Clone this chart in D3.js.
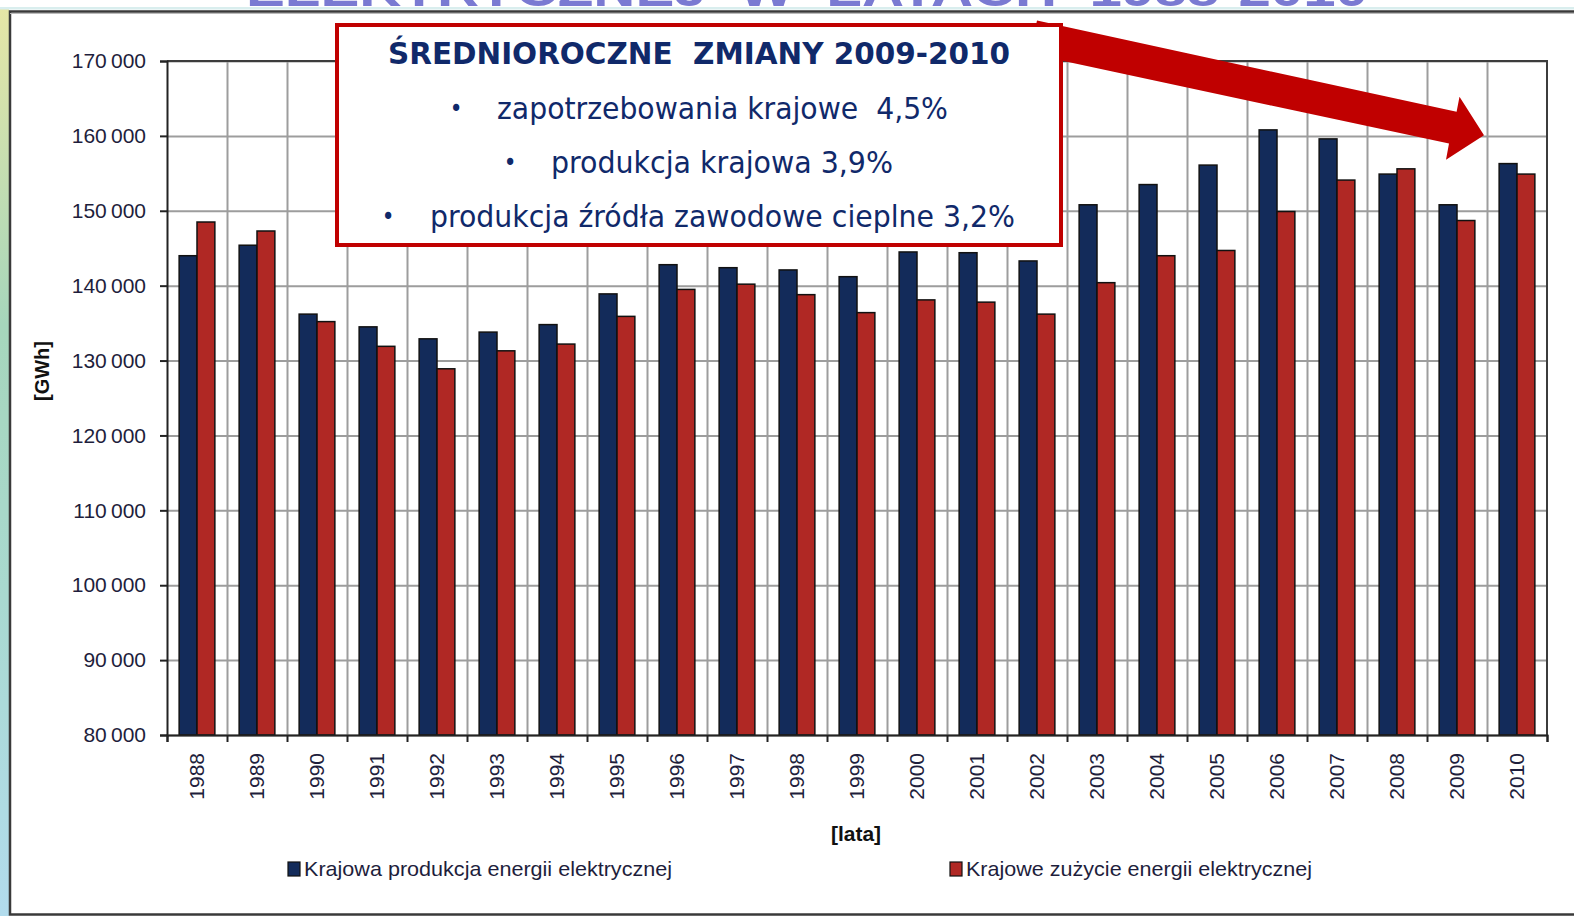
<!DOCTYPE html>
<html>
<head>
<meta charset="utf-8">
<script src="https://cdn.jsdelivr.net/npm/d3@7"></script>
<style>
  body { margin: 0; background: #fff; }
  svg { display: block; }
  text { white-space: pre; }
</style>
</head>
<body>
<svg width="1574" height="916"></svg>
<script>
// data (GWh)
var years = ["1988","1989","1990","1991","1992","1993","1994","1995","1996","1997","1998","1999",
             "2000","2001","2002","2003","2004","2005","2006","2007","2008","2009","2010"];
var produkcja = [144000,145400,136200,134500,132900,133800,134800,138900,142800,142400,142100,141200,
                 144500,144400,143300,150800,153500,156100,160800,159600,154900,150800,156300];
var zuzycie = [148500,147300,135200,131900,128900,131300,132200,135900,139500,140200,138800,136400,
               138100,137800,136200,140400,144000,144700,149900,154100,155600,148700,154900];
var seriesNames = ["Krajowa produkcja energii elektrycznej", "Krajowe zużycie energii elektrycznej"];
var seriesColors = ["#132b5a", "#b02824"];
var yTicks = [80000,90000,100000,110000,120000,130000,140000,150000,160000,170000];
var boxTitle = "ŚREDNIOROCZNE  ZMIANY 2009-2010";
var boxLines = ["zapotrzebowania krajowe  4,5%", "produkcja krajowa 3,9%", "produkcja źródła zawodowe cieplne 3,2%"];

var svg = d3.select("svg");
var W = 1574, H = 916;

// slide background strip on the left + top strip
var defs = svg.append("defs");
var grad = defs.append("linearGradient").attr("id", "side").attr("x1", 0).attr("y1", 0).attr("x2", 0).attr("y2", 1);
grad.append("stop").attr("offset", "0%").attr("stop-color", "#e6e6a6");
grad.append("stop").attr("offset", "35%").attr("stop-color", "#a6d6bc");
grad.append("stop").attr("offset", "65%").attr("stop-color", "#a9d9d0");
grad.append("stop").attr("offset", "100%").attr("stop-color", "#b2dced");
svg.append("rect").attr("x", 0).attr("y", 8).attr("width", 9).attr("height", H - 8).attr("fill", "url(#side)");

defs.append("clipPath").attr("id", "topclip").append("rect").attr("x", 0).attr("y", 0).attr("width", W).attr("height", 7);
svg.append("text")
    .attr("clip-path", "url(#topclip)")
    .attr("x", 246).attr("y", 6)
    .attr("textLength", 1122).attr("lengthAdjust", "spacingAndGlyphs")
    .style("font-family", "'Liberation Sans', Arial, sans-serif")
    .style("font-weight", "bold").style("font-size", "46px").style("fill", "#7a7ad2")
    .text("ELEKTRYCZNEJ  W  LATACH  1988-2010");
svg.append("rect").attr("x", 0).attr("y", 7).attr("width", W).attr("height", 2.5).attr("fill", "#d9eeee");

// chart frame
svg.append("rect").attr("x", 10).attr("y", 11.5).attr("width", W).attr("height", 903)
    .attr("fill", "#fff").attr("stroke", "#3a3a3a").attr("stroke-width", 2.5);
svg.append("line").attr("x1", 10).attr("x2", W).attr("y1", 13.5).attr("y2", 13.5).attr("stroke", "#bbb").attr("stroke-width", 1);

var plotL = 167, plotR = 1547, plotT = 61, plotB = 735;

var y = d3.scaleLinear().domain([80000, 170000]).range([plotB, plotT]);
var x0 = d3.scaleBand().domain(years).range([plotL, plotR]).paddingInner(0).paddingOuter(0);
var x1 = d3.scaleBand().domain([0, 1]).range([0, x0.bandwidth()]).paddingInner(0).paddingOuter(0.68);
var xi = d3.scaleLinear().domain([0, years.length]).range([plotL, plotR]);

var fmt = d3.formatLocale({decimal: ",", thousands: "\u2009", grouping: [3], currency: ["", ""]}).format(",d");

var axisFont = "'Liberation Sans', Arial, sans-serif";

// grid
svg.append("g")
    .attr("transform", "translate(" + plotL + ",0)")
    .call(d3.axisLeft(y).tickValues(yTicks).tickSize(-(plotR - plotL)).tickFormat(""))
    .call(function(g) {
      g.select(".domain").remove();
      g.selectAll("line").attr("stroke", "#9d9d9d").attr("stroke-width", 2);
    });
svg.append("g")
    .attr("transform", "translate(0," + plotB + ")")
    .call(d3.axisBottom(xi).tickValues(d3.range(1, years.length)).tickSize(-(plotB - plotT)).tickFormat(""))
    .call(function(g) {
      g.select(".domain").remove();
      g.selectAll("line").attr("stroke", "#9d9d9d").attr("stroke-width", 2);
    });

// plot border top/right
svg.append("path")
    .attr("d", "M" + plotL + "," + plotT + "H" + plotR + "V" + plotB)
    .attr("fill", "none").attr("stroke", "#3c3c3c").attr("stroke-width", 2);

// bars
var groups = svg.append("g").selectAll("g")
    .data(years)
    .enter().append("g")
      .attr("transform", function(d) { return "translate(" + x0(d) + ",0)"; });

groups.selectAll("rect")
    .data(function(d, i) { return [produkcja[i], zuzycie[i]]; })
    .enter().append("rect")
      .attr("x", function(d, j) { return x1(j); })
      .attr("y", function(d) { return y(d); })
      .attr("width", x1.bandwidth())
      .attr("height", function(d) { return plotB - y(d); })
      .attr("fill", function(d, j) { return seriesColors[j]; })
      .attr("stroke", "#111")
      .attr("stroke-width", 1.5);

// y axis
svg.append("g")
    .attr("transform", "translate(" + plotL + ",0)")
    .call(d3.axisLeft(y).tickValues(yTicks).tickSize(7).tickPadding(14).tickFormat(fmt))
    .call(function(g) {
      g.select(".domain").attr("stroke", "#222").attr("stroke-width", 2);
      g.selectAll("line").attr("stroke", "#222").attr("stroke-width", 2);
      g.selectAll("text").style("font-family", axisFont).style("font-size", "21px").style("fill", "#1e1e3c");
    });

// x axis: ticks at band edges, labels at band centers
svg.append("g")
    .attr("transform", "translate(0," + plotB + ")")
    .call(d3.axisBottom(xi).tickValues(d3.range(0, years.length + 1)).tickSize(7).tickFormat(""))
    .call(function(g) {
      g.select(".domain").attr("stroke", "#222").attr("stroke-width", 2);
      g.selectAll("line").attr("stroke", "#222").attr("stroke-width", 2);
    });

svg.append("g").selectAll("text")
    .data(years)
    .enter().append("text")
      .attr("transform", function(d) { return "translate(" + (x0(d) + x0.bandwidth() / 2 + 7) + ",753) rotate(-90)"; })
      .attr("text-anchor", "end")
      .style("font-family", axisFont).style("font-size", "21px").style("fill", "#1e1e3c")
      .text(function(d) { return d; });

// axis titles
svg.append("text")
    .attr("transform", "translate(49,371) rotate(-90)")
    .attr("text-anchor", "middle")
    .style("font-family", axisFont).style("font-size", "20px").style("font-weight", "bold").style("fill", "#111")
    .text("[GWh]");
svg.append("text")
    .attr("x", 856).attr("y", 841)
    .attr("text-anchor", "middle")
    .style("font-family", axisFont).style("font-size", "21px").style("font-weight", "bold").style("fill", "#111")
    .text("[lata]");

// legend
var legendX = [288, 950], legendW = [368, 346];
var legend = svg.append("g").selectAll("g")
    .data(seriesNames)
    .enter().append("g")
      .attr("transform", function(d, i) { return "translate(" + legendX[i] + ",862)"; });
legend.append("rect")
    .attr("width", 12).attr("height", 14)
    .attr("fill", function(d, i) { return seriesColors[i]; })
    .attr("stroke", "#111").attr("stroke-width", 1.2);
legend.append("text")
    .attr("x", 16).attr("y", 14)
    .attr("textLength", function(d, i) { return legendW[i]; })
    .attr("lengthAdjust", "spacingAndGlyphs")
    .style("font-family", axisFont).style("font-size", "21px").style("fill", "#1e1e3c")
    .text(function(d) { return d; });

// red arrow
var arrowPts = [[1037, 20.5], [1456.6, 111.8], [1459.5, 96.8], [1484, 135.2], [1446, 159.7], [1449, 143.6], [1029.8, 53.7]];
svg.append("polygon")
    .attr("points", arrowPts.map(function(p) { return p.join(","); }).join(" "))
    .attr("fill", "#c00000");

// annotation box
svg.append("rect")
    .attr("x", 337).attr("y", 25).attr("width", 724).attr("height", 220)
    .attr("fill", "#fff").attr("stroke", "#c00000").attr("stroke-width", 4);

var boxFont = "'DejaVu Sans Condensed', 'DejaVu Sans', sans-serif";
svg.append("text")
    .attr("x", 388).attr("y", 64)
    .attr("textLength", 622).attr("lengthAdjust", "spacingAndGlyphs")
    .style("font-family", boxFont).style("font-stretch", "condensed")
    .style("font-weight", "bold").style("font-size", "31px").style("fill", "#10296a")
    .text(boxTitle);

var bulletX = [456, 510, 388], textX = [497, 551, 430], textW = [451, 342, 585], lineY = [119, 173, 227];
var rows = svg.append("g").selectAll("g")
    .data(boxLines)
    .enter().append("g");
rows.append("text")
    .attr("x", function(d, i) { return bulletX[i]; })
    .attr("y", function(d, i) { return lineY[i] - 2; })
    .attr("text-anchor", "middle")
    .style("font-family", boxFont).style("font-size", "24px").style("fill", "#10296a")
    .text("•");
rows.append("text")
    .attr("x", function(d, i) { return textX[i]; })
    .attr("y", function(d, i) { return lineY[i]; })
    .attr("textLength", function(d, i) { return textW[i]; })
    .attr("lengthAdjust", "spacingAndGlyphs")
    .style("font-family", boxFont).style("font-stretch", "condensed")
    .style("font-size", "31px").style("fill", "#10296a")
    .text(function(d) { return d; });
</script>
</body>
</html>
